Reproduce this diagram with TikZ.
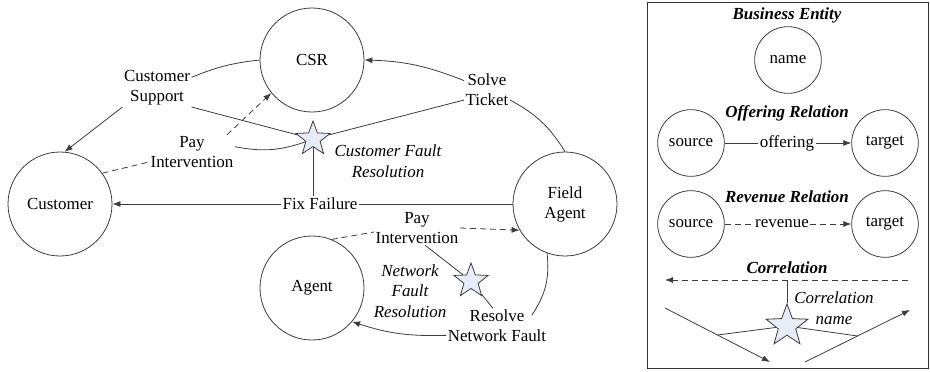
\documentclass[tikz,border=0pt]{standalone}
\usepackage{fontspec}
\setmainfont{Liberation Serif}
\usepackage{xcolor}
\usepackage{tikz}
\usetikzlibrary{shapes.geometric, arrows.meta, calc}

\definecolor{starfill}{RGB}{230,236,248}
\definecolor{linegray}{RGB}{60,60,60}

\begin{document}
\begin{tikzpicture}[x=0.75pt, y=-0.75pt, >={Latex[length=6pt, width=4.5pt]},
    font=\fontsize{12.7}{15}\selectfont,
    every node/.style={inner sep=1pt},
    lbl/.style={align=center},
    entity/.style={circle, align=center, draw=linegray, line width=0.6pt, minimum size=78pt, inner sep=0pt},
    legentity/.style={entity, minimum size=50pt},
    corr/.style={star, star points=5, star point ratio=2.4, draw=linegray, line width=0.6pt, fill=starfill, minimum size=27pt, inner sep=0pt},
    every edge/.style={draw=linegray, line width=0.6pt},
    rev/.style={dash pattern=on 4.5pt off 3pt},
    legtitle/.style={font=\fontsize{12.7}{15}\selectfont\bfseries\itshape},
    corrname/.style={lbl, font=\fontsize{12.7}{15.5}\selectfont\itshape}]
    \useasboundingbox (0,0) rectangle (930,371);

    % business entities
    \node[entity] (csr)   at (312,60)  {CSR};
    \node[entity] (cust)  at (60,204)  {Customer};
    \node[entity] (field) at (565,204) {Field\\Agent};
    \node[entity] (agent) at (312,288) {Agent};

    % correlations
    \node[corr] (cfr) at (313,139) {};
    \node[corr] (nfr) at (471,281) {};
    \node[corrname] (cfrname) at (388,161) {Customer Fault\\Resolution};
    \node[corrname] (nfrname) at (410,291) {Network\\Fault\\Resolution};

    % relation labels
    \node[lbl] (custsup) at (157,88)  {Customer\\Support};
    \node[lbl] (pay1)    at (192,152) {Pay\\Intervention};
    \node[lbl] (solve)   at (487,90)  {Solve\\Ticket};
    \node[lbl] (fix)     at (320,204) {Fix Failure};
    \node[lbl] (pay2)    at (417,228) {Pay\\Intervention};
    \node[lbl] (resolve) at (497,326) {Resolve\\Network Fault};

    \path (csr.west) edge [bend right=8] ([yshift=8pt]custsup.east)
          (custsup.south west) edge [->] (cust.85)
          (custsup.south east) edge (cfr)
          (cust.36) edge [rev] ([yshift=-7.5pt]pay1.west)
          ([xshift=-6pt]pay1.north east) edge [rev, ->] (csr.219)
          ([yshift=4pt]pay1.east) edge [bend right=15] (cfr)
          ([yshift=7pt]solve.west) edge [->, bend right=10] (csr.east)
          (field.90) edge [bend right=15] ([yshift=-7.5pt]solve.east)
          ([yshift=-7.5pt]solve.west) edge (cfr)
          (field.west) edge (fix.east)
          (fix.west) edge [->] (cust.east)
          (fix.north -| cfr) edge (cfr)
          (agent.68) edge [rev] ([yshift=-3pt]pay2.west)
          (pay2.east) edge [rev, ->] (field.210)
          ([xshift=6pt]pay2.south) edge (nfr)
          (nfr) edge ([xshift=-3pt]resolve.north)
          (field.250) edge [bend left=20] ([xshift=-12pt, yshift=8pt]resolve.east)
          ([yshift=-7pt]resolve.west) edge [->, bend left=10] (agent.320);

    % legend
    \draw[black!80, line width=0.6pt] (647,2) rectangle (928,368);
    \node[legtitle] (tbe) at (787,15)  {Business Entity};
    \node[legentity] (name) at (788,60) {name};
    \node[legtitle] (tor) at (787,113) {Offering Relation};
    \node[legentity] (src1) at (691,143) {source};
    \node[legentity] (tgt1) at (885,143) {target};
    \node (offer) at (787,143) {offering};
    \node[legtitle] (trr) at (787,197) {Revenue Relation};
    \node[legentity] (src2) at (691,224) {source};
    \node[legentity] (tgt2) at (885,224) {target};
    \node (revenue) at (782,224) {revenue};
    \node[legtitle] (tcr) at (787,268) {Correlation};
    \coordinate (cr) at (908,280);
    \coordinate (cl) at (665,280);
    \node[corr, minimum size=33pt] (lstar) at (787,326) {};
    \node[corrname] (lname) at (834,308) {Correlation\\name};
    \coordinate (a1) at (665,308);
    \coordinate (a2) at (770,362);
    \coordinate (b1) at (805,362);
    \coordinate (b2) at (910,310);
    \coordinate (m1) at ($(a1)!.5!(a2)$);
    \coordinate (m2) at ($(b1)!.5!(b2)$);

    \path (src1) edge (offer)
          (offer) edge [->] (tgt1)
          (src2) edge [rev] (revenue)
          (revenue) edge [rev, ->] (tgt2)
          (cr) edge [rev, ->] (cl)
          (lstar |- cr) edge (lstar)
          (a1) edge [->] (a2)
          (b1) edge [->] (b2)
          (lstar) edge (m1)
          (lstar) edge (m2);
\end{tikzpicture}
\end{document}
